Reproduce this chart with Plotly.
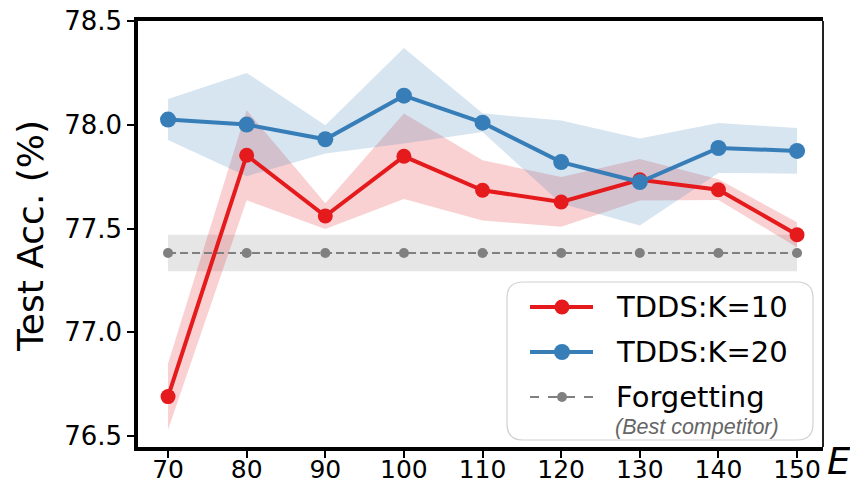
import plotly.graph_objects as go

# ---- data ----
epochs = [70, 80, 90, 100, 110, 120, 130, 140, 150]
k10_mean = [76.69, 77.853, 77.56, 77.848, 77.684, 77.628, 77.735, 77.687, 77.47]
k10_std = [0.16, 0.217, 0.062, 0.206, 0.145, 0.12, 0.10, 0.05, 0.06]
k20_mean = [78.025, 78.001, 77.93, 78.14, 78.01, 77.82, 77.724, 77.888, 77.874]
k20_std = [0.099, 0.249, 0.068, 0.23, 0.045, 0.20, 0.21, 0.12, 0.11]
forget_mean = [77.382] * len(epochs)
forget_std = [0.088] * len(epochs)
y_ticks = [76.5, 77.0, 77.5, 78.0, 78.5]
x_ticks = epochs

RED = "#e41a1c"
BLUE = "#377eb8"
GREY = "#808080"

# plot-area pixel geometry
W, H = 850, 484
L, R, T, B = 138, 823, 21, 447
PW, PH = R - L, B - T


def px(x):
    return (x - L) / PW


def py(y):
    return (B - y) / PH


def band(xs, m, s, color):
    up = [a + b for a, b in zip(m, s)]
    lo = [a - b for a, b in zip(m, s)]
    return go.Scatter(x=xs + xs[::-1], y=up + lo[::-1], fill="toself",
                      fillcolor=color, line=dict(width=0), mode="lines",
                      hoverinfo="skip", showlegend=False)


fig = go.Figure()
fig.add_trace(band(epochs, forget_mean, forget_std, "rgba(128,128,128,0.2)"))
fig.add_trace(band(epochs, k10_mean, k10_std, "rgba(228,26,28,0.2)"))
fig.add_trace(band(epochs, k20_mean, k20_std, "rgba(55,126,184,0.2)"))

fig.add_trace(go.Scatter(x=epochs, y=forget_mean, mode="lines+markers",
                         line=dict(color=GREY, width=2, dash="8px,4px"),
                         marker=dict(size=10, color=GREY), name="Forgetting",
                         showlegend=False))
fig.add_trace(go.Scatter(x=epochs, y=k10_mean, mode="lines+markers",
                         line=dict(color=RED, width=4),
                         marker=dict(size=15, color=RED), name="TDDS:K=10",
                         showlegend=False))
fig.add_trace(go.Scatter(x=epochs, y=k20_mean, mode="lines+markers",
                         line=dict(color=BLUE, width=4),
                         marker=dict(size=16, color=BLUE), name="TDDS:K=20",
                         showlegend=False))

shapes = []
annotations = []

# right spine (thinner)
shapes.append(dict(type="line", xref="paper", yref="paper", x0=1, x1=1,
                   y0=0, y1=1, line=dict(color="#222", width=2)))

# custom legend box with rounded corners
bx0, by0, bx1, by1, r = 507, 282, 813, 440, 16
path = (f"M {px(bx0 + r)},{py(by0)} L {px(bx1 - r)},{py(by0)} "
        f"Q {px(bx1)},{py(by0)} {px(bx1)},{py(by0 + r)} "
        f"L {px(bx1)},{py(by1 - r)} Q {px(bx1)},{py(by1)} {px(bx1 - r)},{py(by1)} "
        f"L {px(bx0 + r)},{py(by1)} Q {px(bx0)},{py(by1)} {px(bx0)},{py(by1 - r)} "
        f"L {px(bx0)},{py(by0 + r)} Q {px(bx0)},{py(by0)} {px(bx0 + r)},{py(by0)} Z")
shapes.append(dict(type="path", xref="paper", yref="paper", path=path,
                   fillcolor="rgba(255,255,255,0.85)",
                   line=dict(color="#d0d0d0", width=1.2)))

legend_items = [("TDDS:K=10", RED, 4, 15, "solid", 307),
                ("TDDS:K=20", BLUE, 4, 16, "solid", 352),
                ("Forgetting", GREY, 2, 10, "dash", 397)]
for name, col, lw, ms, dash, yc in legend_items:
    shapes.append(dict(type="line", xref="paper", yref="paper",
                       x0=px(530), x1=px(593), y0=py(yc), y1=py(yc),
                       line=dict(color=col, width=lw, dash=dash)))
    shapes.append(dict(type="circle", xref="paper", yref="paper",
                       xsizemode="pixel", ysizemode="pixel",
                       xanchor=px(562), yanchor=py(yc),
                       x0=-ms / 2, x1=ms / 2, y0=-ms / 2, y1=ms / 2,
                       fillcolor=col, line=dict(width=0)))
    annotations.append(dict(text=name, xref="paper", yref="paper",
                            x=px(614), y=py(yc), xanchor="left", yanchor="middle",
                            showarrow=False,
                            font=dict(family="DejaVu Sans", size=29, color="black")))
annotations.append(dict(text="<i>(Best competitor)</i>", xref="paper", yref="paper",
                        x=px(613), y=py(427), xanchor="left", yanchor="middle",
                        showarrow=False,
                        font=dict(family="Liberation Sans", size=21.5, color="#666666")))

# axis title annotations
annotations.append(dict(text="Test Acc. (%)", xref="paper", yref="paper",
                        x=px(30), y=py(236), xanchor="center", yanchor="middle",
                        textangle=-90, showarrow=False,
                        font=dict(family="DejaVu Sans", size=36, color="black")))
annotations.append(dict(text="<i>E</i>", xref="paper", yref="paper",
                        x=px(825), y=py(461), xanchor="left", yanchor="middle",
                        showarrow=False,
                        font=dict(family="DejaVu Sans", size=37, color="black")))

fig.update_layout(
    width=W, height=H,
    margin=dict(l=L, r=W - R, t=T, b=H - B, pad=0),
    paper_bgcolor="white", plot_bgcolor="white",
    showlegend=False,
    shapes=shapes, annotations=annotations,
    xaxis=dict(range=[66.18, 153.3], tickvals=x_ticks,
               ticktext=[str(v) for v in x_ticks],
               showgrid=False, zeroline=False, showline=True, linecolor="black",
               linewidth=3.5, mirror=True, ticks="outside", ticklen=7,
               tickwidth=2, tickcolor="black", automargin=False,
               ticklabelstandoff=-10,
               tickfont=dict(family="DejaVu Sans", size=25, color="black")),
    yaxis=dict(range=[76.447, 78.5], tickvals=y_ticks,
               ticktext=[f"{v:.1f}" for v in y_ticks],
               showgrid=False, zeroline=False, showline=True, linecolor="black",
               linewidth=3.5, mirror=False, ticks="outside", ticklen=7,
               tickwidth=2, tickcolor="black", automargin=False,
               tickfont=dict(family="DejaVu Sans", size=26, color="black")),
)

fig.write_html("out.html")
